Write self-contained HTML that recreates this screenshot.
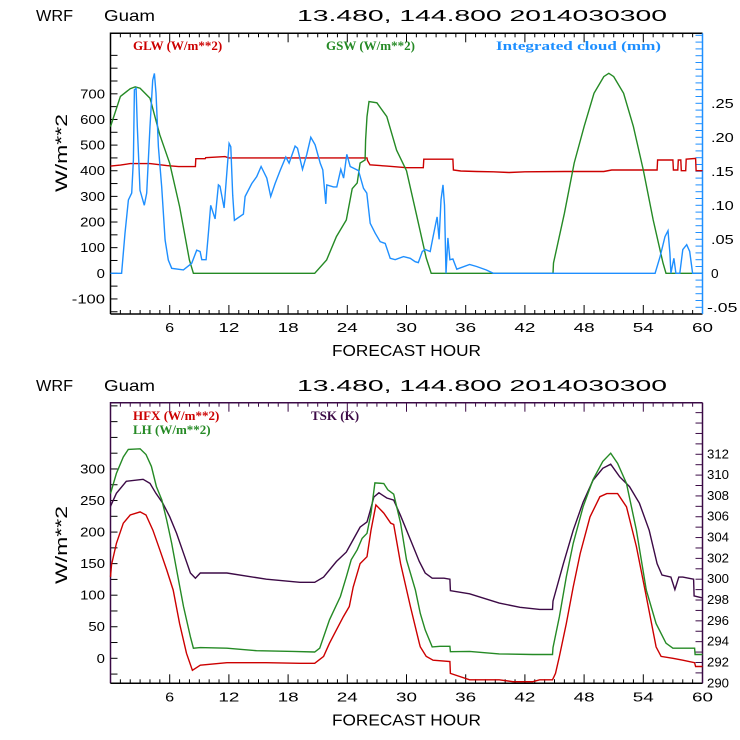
<!DOCTYPE html>
<html><head><meta charset="utf-8"><style>
html,body{margin:0;padding:0;background:#fff;}
svg{display:block;}
text{font-family:"Liberation Sans",sans-serif;}
.t{font-size:16px;fill:#000;}
.tk{font-size:12.5px;fill:#000;}
.lg{font-family:"Liberation Serif",serif;font-weight:bold;font-size:13px;}
</style></head><body>
<svg id="c" width="740" height="740" viewBox="0 0 740 740" xmlns="http://www.w3.org/2000/svg">
<g>
<text class="t" x="36" y="21" textLength="37" lengthAdjust="spacingAndGlyphs">WRF</text>
<text class="t" x="104" y="21" textLength="51" lengthAdjust="spacingAndGlyphs">Guam</text>
<text class="t" x="297" y="21" textLength="370" lengthAdjust="spacingAndGlyphs">13.480, 144.800  2014030300</text>
</g>
<g>
<text class="t" x="36" y="391" textLength="37" lengthAdjust="spacingAndGlyphs">WRF</text>
<text class="t" x="104" y="391" textLength="51" lengthAdjust="spacingAndGlyphs">Guam</text>
<text class="t" x="297" y="391" textLength="370" lengthAdjust="spacingAndGlyphs">13.480, 144.800  2014030300</text>
</g>
<g id="top"></g>
<g id="bot"></g>
</svg>
<script>
// ---------- data: top panel ----------
const gswHours = [0,1,2,2.5,3,4,5,6,7,8,8.4,20.7,21.9,22.9,23.9,24.5,25,25.3,25.8,25.85,26,26.2,27,28,29,30,31,32,32.5,44.85,44.9,46,47,48,49,50,50.5,51,52,53,54,55,56,56.3,60];
const gswValues = [572,690,720,727,722,683,540,429,260,52,0,0,52,143,208,330,352,430,442,520,611,670,665,611,480,400,230,60,0,0,40,234,430,572,702,767,780,767,702,572,403,208,40,0,0];
const glwHours = [0,1,2,4,5.7,6.9,8.6,8.65,9.6,9.65,11.6,12,26,26.05,26.3,28,30,31.7,31.75,34.7,34.75,35.5,37.1,38.8,40.4,42,46,50,50.8,55.4,55.45,57,57.05,57.5,57.55,57.8,57.85,58.3,58.35,59.3,59.35,60];
const glwValues = [418,422,428,428,420,416,416,447,447,451,455,450,450,440,423,418,412,412,445,445,403,399,397,396,393,396,397,397,403,403,442,442,403,403,442,442,400,400,445,448,400,400];
const cloudHours = [0,1.13,1.47,1.81,2.15,2.32,2.42,2.59,2.72,2.99,3.43,3.67,4.0,4.28,4.45,4.61,4.85,5.19,5.53,5.86,6.2,7.39,8.23,8.74,9.08,9.25,9.69,9.92,10.16,10.6,10.94,11.1,11.51,12.02,12.19,12.39,12.56,13.47,13.64,14.32,14.82,15.26,15.84,16.24,16.68,17.19,17.77,18.1,18.71,18.95,19.46,19.9,20.3,20.74,21.25,21.52,21.82,21.92,22.6,22.94,23.34,23.62,23.95,24.29,25.14,25.64,25.98,26.32,26.83,27.33,27.84,28.35,28.85,29.7,30.38,30.88,31.2,31.6,31.9,32.4,32.7,33.1,33.3,33.5,33.7,33.85,34,34.2,34.4,34.7,35.1,36.4,37.1,38.1,38.8,55.2,55.7,56.2,56.5,56.7,56.8,57.1,57.3,57.7,58,58.4,58.7,59,60];
const cloudValues = [0,0,0.059,0.108,0.118,0.167,0.27,0.272,0.216,0.122,0.1,0.118,0.216,0.284,0.294,0.265,0.186,0.127,0.049,0.0196,0.0074,0.005,0.0147,0.034,0.032,0.02,0.02,0.059,0.1,0.08,0.13,0.128,0.096,0.191,0.186,0.115,0.078,0.087,0.113,0.132,0.142,0.157,0.14,0.113,0.132,0.151,0.171,0.162,0.187,0.184,0.153,0.175,0.2,0.189,0.162,0.152,0.102,0.13,0.127,0.127,0.153,0.14,0.175,0.157,0.151,0.125,0.118,0.0735,0.059,0.0465,0.044,0.022,0.02,0.0245,0.022,0.017,0.0157,0.032,0.035,0.032,0.054,0.083,0.05,0.108,0.13,0.1,0,0.052,0.02,0.021,0.006,0.013,0.01,0.0049,0,0,0.0245,0.054,0.0627,0.03,0,0.022,0,0,0.035,0.042,0.032,0,0];
// ---------- data: bottom panel ----------
const lhHours = [0,0.6,1.3,1.8,3,3.6,4.15,4.65,5.2,5.7,6.2,6.7,7.4,8.1,8.4,9.1,11.8,14.8,18.5,20.7,21.2,22.2,23.3,23.9,24.4,25,25.5,26,26.4,26.8,27.7,28.1,28.7,29.4,30,30.9,31.4,31.9,32.6,33.4,34.4,34.45,36.4,39.4,42.8,44.8,44.85,45.5,46.2,46.9,47.9,48.9,49.9,50.7,51.4,52.3,53.3,54.3,55.3,56.3,57,58,59.2,59.25,60];
const lhValues = [261,293,319,331,332,323,304,272,251,219,182,140,82,34,16,17,16,12,11,10,16,61,98,129,156,172,190,198,230,278,277,267,260,214,156,108,71,45,18,19,19,10.5,11,7,6,6,17,66,129,182,240,283,312,325,309,277,203,108,55,24,16,16,16,6,6];
const hfxHours = [0,0.1,0.6,1.3,2,3,3.6,4.3,5,5.7,6.35,7,7.7,8.3,9.1,11.8,15.8,19.2,20.7,21.6,22.2,22.9,23.6,24.2,24.6,25.3,26,26.4,26.9,27.7,28.4,28.7,29.4,30.4,31.3,31.4,32,32.7,34.4,34.45,36.4,39.4,40.8,42.8,43.5,44.8,45.1,45.5,46.2,46.9,47.6,48.6,49.6,50.3,51.4,52.3,53.3,54.3,55.3,55.8,57,58,59.2,59.3,60];
const hfxValues = [129,148,182,214,227,232,227,203,172,140,108,55,8,-19,-11,-7,-7,-8,-8,3,24,45,66,82,113,150,161,203,243,230,214,212,150,82,24,18,3,-3,-5,-24,-34,-34,-37,-37,-34,-34,-24,3,55,113,166,224,256,261,261,240,177,98,18,3,0,-3,-7,-13,-13];
const tskHours = [0,0.6,1.6,3.3,4,4.6,5.3,6,6.7,7.4,8.1,8.6,9.1,11.8,15.8,19.2,20.7,21.6,22.9,23.9,24.6,25.3,26,26.3,26.7,27.2,28,28.7,29.4,30.4,31.3,31.9,32.6,33.8,34.4,34.45,36.4,39.4,41.5,43.5,44.8,44.85,45.9,46.9,47.9,48.9,49.9,50.7,51.6,52.6,53.6,54.6,55.4,55.9,56.8,57.2,57.6,58,59.1,59.15,60];
const tskValues = [307.0,308.25,309.4,309.6,309.2,308.25,307.3,306.0,304.4,302.5,300.6,300.1,300.6,300.6,300.0,299.7,299.7,300.2,301.7,302.6,303.8,305.0,305.5,306.5,307.9,308.3,307.8,307.6,306.1,303.8,301.7,300.6,300.1,300.1,300.0,298.9,298.6,297.7,297.3,297.1,297.1,297.9,301.5,304.7,307.4,309.5,310.65,311.05,309.85,308.9,307.3,304.7,301.5,300.4,300.2,299.0,300.2,300.2,300.0,298.4,298.2];
const xTicks = [6,12,18,24,30,36,42,48,54,60];
const topLeftTicks = [-100,0,100,200,300,400,500,600,700];
const topRightTicks = [-0.05,0,0.05,0.10,0.15,0.20,0.25];
const topRightLabels = ["-.05","0",".05",".10",".15",".20",".25"];
const botLeftTicks = [0,50,100,150,200,250,300];
const botRightTicks = [290,292,294,296,298,300,302,304,306,308,310,312];

const NS="http://www.w3.org/2000/svg";
function mk(parent,tag,attrs){const e=document.createElementNS(NS,tag);for(const k in attrs)e.setAttribute(k,attrs[k]);parent.appendChild(e);return e;}
const X0=110.5, X1=702.5;
const xs=h=>X0+h*(X1-X0)/60;

function panel(g,top,bot,yl,yr,leftMin,leftMax,leftStep,rightMin,rightMax,rightStep,boxColor,rightColor){
  for(let h=0;h<=60;h++){
    const x=xs(h),L=(h%6===0)?9:4;
    const t1=mk(g,'line',{x1:x,x2:x,y1:bot,y2:bot-L,stroke:'#000','stroke-width':1});
    
    
    const t2=mk(g,'line',{x1:x,x2:x,y1:top,y2:top+L,stroke:boxColor,'stroke-width':1});
    
    
  }
  for(let v=leftMin;v<=leftMax+1e-9;v+=leftStep){
    const y=yl(v); if(y<top||y>bot)continue;
    const t=mk(g,'line',{x1:X0,x2:X0+7,y1:y,y2:y,stroke:'#000','stroke-width':1});
    
    
  }
  for(let v=rightMin;v<=rightMax+1e-9;v+=rightStep){
    const y=yr(v); if(y<top||y>bot)continue;
    const t=mk(g,'line',{x1:X1,x2:X1-7,y1:y,y2:y,stroke:rightColor,'stroke-width':1});
    
    
  }
  const b=mk(g,'path',{d:`M${X0},${bot}V${top}H${X1}`,fill:'none',stroke:boxColor,'stroke-width':1.5});
  
  
  const bb=mk(g,'line',{x1:X0,x2:X1,y1:bot,y2:bot,stroke:'#000','stroke-width':1.5});
  
  
  const br=mk(g,'line',{x1:X1,x2:X1,y1:top,y2:bot,stroke:rightColor,'stroke-width':1.5});
  
  
  xTicks.forEach(h=>{
    const s=String(h);
    const t=mk(g,'text',{x:xs(h),y:bot+18,'text-anchor':'middle',class:'tk',textLength:s.length*12-3,lengthAdjust:'spacingAndGlyphs'});
    t.textContent=s;
    
    
  });
  const xl=mk(g,'text',{x:332,y:bot+42,class:'t',textLength:149,lengthAdjust:'spacingAndGlyphs'});
  xl.textContent='FORECAST HOUR';
  
  
}
function line(g,hs,vs,ys,color,name){
  const d=hs.map((h,i)=>(i?'L':'M')+xs(h).toFixed(1)+','+ys(vs[i]).toFixed(1)).join('');
  const p=mk(g,'path',{d:d,fill:'none',stroke:color,'stroke-width':1.4,'stroke-linejoin':'miter'});
  
  
}
function ylab(g,x,y,s,anchor,w){
  const t=mk(g,'text',{x:x,y:y+4.5,'text-anchor':anchor,class:'tk',textLength:w,lengthAdjust:'spacingAndGlyphs'});
  t.textContent=s;
  
  
}
// ---- top panel ----
const gt=document.getElementById('top');
const T0=33.3,T1=314;
const yT=v=>273.3-v*0.2564;
const yC=c=>273.3-c*680;
panel(gt,T0,T1,yT,yC,-150,850,50,-0.07,0.35,0.01,'#000','#1e8fff');
topLeftTicks.forEach(v=>{const s=String(v);ylab(gt,105,yT(v),s,'end',s.length*8.3);});
topRightTicks.forEach((v,i)=>{const s=topRightLabels[i];ylab(gt,s.length>3?707:711,yC(v),s,'start',s.length*7.6);});
line(gt,glwHours,glwValues,yT,'#cc0000','glw-line');
line(gt,gswHours,gswValues,yT,'#258a25','gsw-line');
line(gt,cloudHours,cloudValues,yC,'#1e8fff','integrated-cloud-line');
// ---- bottom panel ----
const gb=document.getElementById('bot');
const B0=402.7,B1=683.3;
const yB=v=>658.3-v*0.6311;
const yK=k=>683.3-(k-290)*10.41;
panel(gb,B0,B1,yB,yK,-50,425,25,290,316,1,'#3a0a45','#3a0a45');
botLeftTicks.forEach(v=>{const s=String(v);ylab(gb,105,yB(v),s,'end',s.length*8.3);});
botRightTicks.forEach(v=>{const s=String(v);const t=mk(gb,'text',{x:707,y:yK(v)+4,class:'tk','font-size':'11px',textLength:22,lengthAdjust:'spacingAndGlyphs'});t.textContent=s;});
line(gb,tskHours,tskValues,yK,'#3c0a46','tsk-line');
line(gb,lhHours,lhValues,yB,'#258a25','lh-line');
line(gb,hfxHours,hfxValues,yB,'#cc0000','hfx-line');
</script>
<div style="position:absolute;left:0;top:0;width:740px;height:740px;pointer-events:none">
<svg width="740" height="740" xmlns="http://www.w3.org/2000/svg">
<text class="lg" x="133" y="50" fill="#cc0000">GLW (W/m**2)</text>
<text class="lg" x="326" y="50" fill="#258a25">GSW (W/m**2)</text>
<text class="lg" x="496" y="50" fill="#1e8fff" textLength="165" lengthAdjust="spacingAndGlyphs">Integrated cloud (mm)</text>
<text class="lg" x="133" y="420" fill="#cc0000">HFX (W/m**2)</text>
<text class="lg" x="133" y="434" fill="#258a25">LH  (W/m**2)</text>
<text class="lg" x="311" y="420" fill="#3c0a46">TSK (K)</text>
<text x="0" y="0" transform="translate(67,192) rotate(-90)" style="font-family:'Liberation Sans',sans-serif;font-size:17px" textLength="78" lengthAdjust="spacingAndGlyphs">W/m**2</text>
<text x="0" y="0" transform="translate(67,584) rotate(-90)" style="font-family:'Liberation Sans',sans-serif;font-size:17px" textLength="78" lengthAdjust="spacingAndGlyphs">W/m**2</text>
</svg></div>
</body></html>
